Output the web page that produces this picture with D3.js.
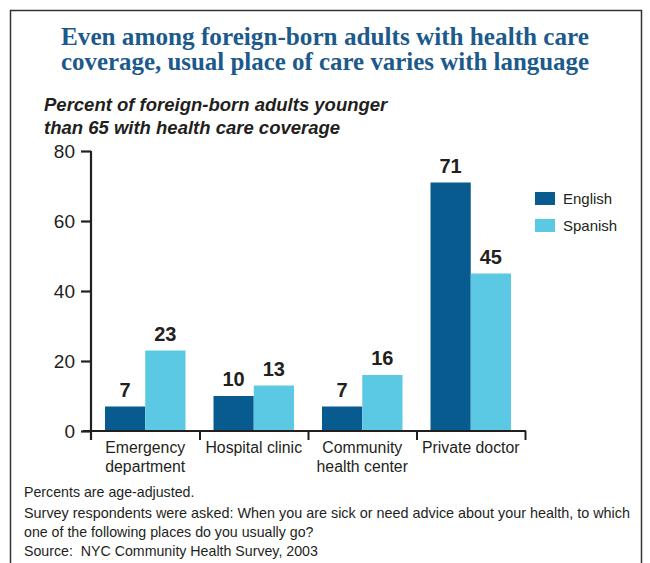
<!DOCTYPE html>
<html><head><meta charset="utf-8">
<script src="https://cdn.jsdelivr.net/npm/d3@7"></script>
<style>body{margin:0;background:#fff}svg{display:block}</style>
</head><body>
<script>
const categories = [["Emergency","department"],["Hospital clinic"],["Community","health center"],["Private doctor"]];
const series = ["English","Spanish"];
const englishValues = [7,10,7,71];
const spanishValues = [23,13,16,45];
const yTicks = [0,20,40,60,80];
const titleLines = ["Even among foreign-born adults with health care","coverage, usual place of care varies with language"];
const subtitleLines = ["Percent of foreign-born adults younger","than 65 with health care coverage"];
const footerLines = ["Percents are age-adjusted.","Survey respondents were asked: When you are sick or need advice about your health, to which","one of the following places do you usually go?","Source:  NYC Community Health Survey, 2003"];

const W=650,H=563;
const colors={English:"#075b8f",Spanish:"#5bc9e4"};
const ink="#231f20";
const sans="Liberation Sans, Arial, sans-serif";
const svg=d3.select("body").append("svg").attr("width",W).attr("height",H);
svg.append("rect").attr("width",W).attr("height",H).attr("fill","#fff");
svg.append("path").attr("d","M10.5,600V10.5H641.5V600").attr("fill","none").attr("stroke","#333").attr("stroke-width",1.5);

svg.selectAll("text.title").data(titleLines).join("text").attr("class","title")
  .attr("x",325).attr("y",(d,i)=>45+i*25).attr("text-anchor","middle")
  .attr("font-family","Liberation Serif, serif").attr("font-weight","bold").attr("font-size",24.5)
  .attr("fill","#1d5a8c").attr("textLength",528).attr("lengthAdjust","spacingAndGlyphs").text(d=>d);

svg.selectAll("text.sub").data(subtitleLines).join("text").attr("class","sub")
  .attr("x",44).attr("y",(d,i)=>111+i*23)
  .attr("font-family",sans).attr("font-weight","bold").attr("font-style","italic").attr("font-size",18.5)
  .attr("fill",ink).text(d=>d);

const x0=91,x1=525,yTop=151,yBot=431;
const y=d3.scaleLinear().domain([0,80]).range([yBot,yTop]);
const cat=d3.scaleBand().domain(d3.range(categories.length)).range([x0,x1]).padding(0);
const bw=cat.bandwidth();
const sub=d3.scaleBand().domain(series).range([14,bw-14]).padding(0);

const data=series.map(s=>({s,vals:s==="English"?englishValues:spanishValues}));
const g=svg.append("g");
data.forEach(d=>{
  g.selectAll(null).data(d.vals).join("rect")
    .attr("x",(v,i)=>cat(i)+sub(d.s)).attr("width",sub.bandwidth())
    .attr("y",v=>y(v)).attr("height",v=>yBot-y(v)).attr("fill",colors[d.s]);
  g.selectAll(null).data(d.vals).join("text")
    .attr("x",(v,i)=>cat(i)+sub(d.s)+sub.bandwidth()/2).attr("y",v=>y(v)-10)
    .attr("text-anchor","middle").attr("font-family",sans)
    .attr("font-weight","bold").attr("font-size",20).attr("fill",ink).text(v=>v);
});

const ya=svg.append("g").attr("transform",`translate(${x0},0)`)
  .call(d3.axisLeft(y).tickValues(yTicks).tickSize(10).tickPadding(6).tickFormat(d3.format("d")));
ya.select(".domain").attr("d",`M0,${yTop}V${yBot+9}`).attr("stroke",ink).attr("stroke-width",2.2);
ya.selectAll(".tick line").attr("stroke",ink).attr("stroke-width",2.2);
ya.selectAll(".tick text").attr("font-family",sans).attr("font-size",19).attr("fill",ink);

const bounds=d3.scaleLinear().domain([0,categories.length]).range([x0,x1]);
const xa=svg.append("g").attr("transform",`translate(0,${yBot})`)
  .call(d3.axisBottom(bounds).tickValues(d3.range(1,categories.length+1)).tickSize(9).tickFormat(""));
xa.select(".domain").attr("d",`M${x0-8},0H${x1+1}`).attr("stroke",ink).attr("stroke-width",2.2);
xa.selectAll(".tick line").attr("stroke",ink).attr("stroke-width",2);

categories.forEach((lines,i)=>{
  svg.append("g").selectAll("text").data(lines).join("text")
    .attr("x",cat(i)+bw/2).attr("y",(d,j)=>453+j*19).attr("text-anchor","middle")
    .attr("font-family",sans).attr("font-size",15.8).attr("fill",ink).text(d=>d);
});

const lg=svg.append("g");
series.forEach((s,i)=>{
  lg.append("rect").attr("x",535).attr("y",192+i*27).attr("width",20).attr("height",13).attr("fill",colors[s]);
  lg.append("text").attr("x",563).attr("y",204+i*27).attr("font-family",sans)
    .attr("font-size",15).attr("fill",ink).text(s);
});

const fy=[497,517.5,537,556];
svg.selectAll("text.foot").data(footerLines).join("text").attr("class","foot")
  .attr("x",24).attr("y",(d,i)=>fy[i]).style("white-space","pre")
  .attr("font-family",sans).attr("font-size",14.2).attr("fill",ink)
  .attr("textLength",(d,i)=>i===1?606:null).attr("lengthAdjust","spacingAndGlyphs").text(d=>d);
</script>
</body></html>
